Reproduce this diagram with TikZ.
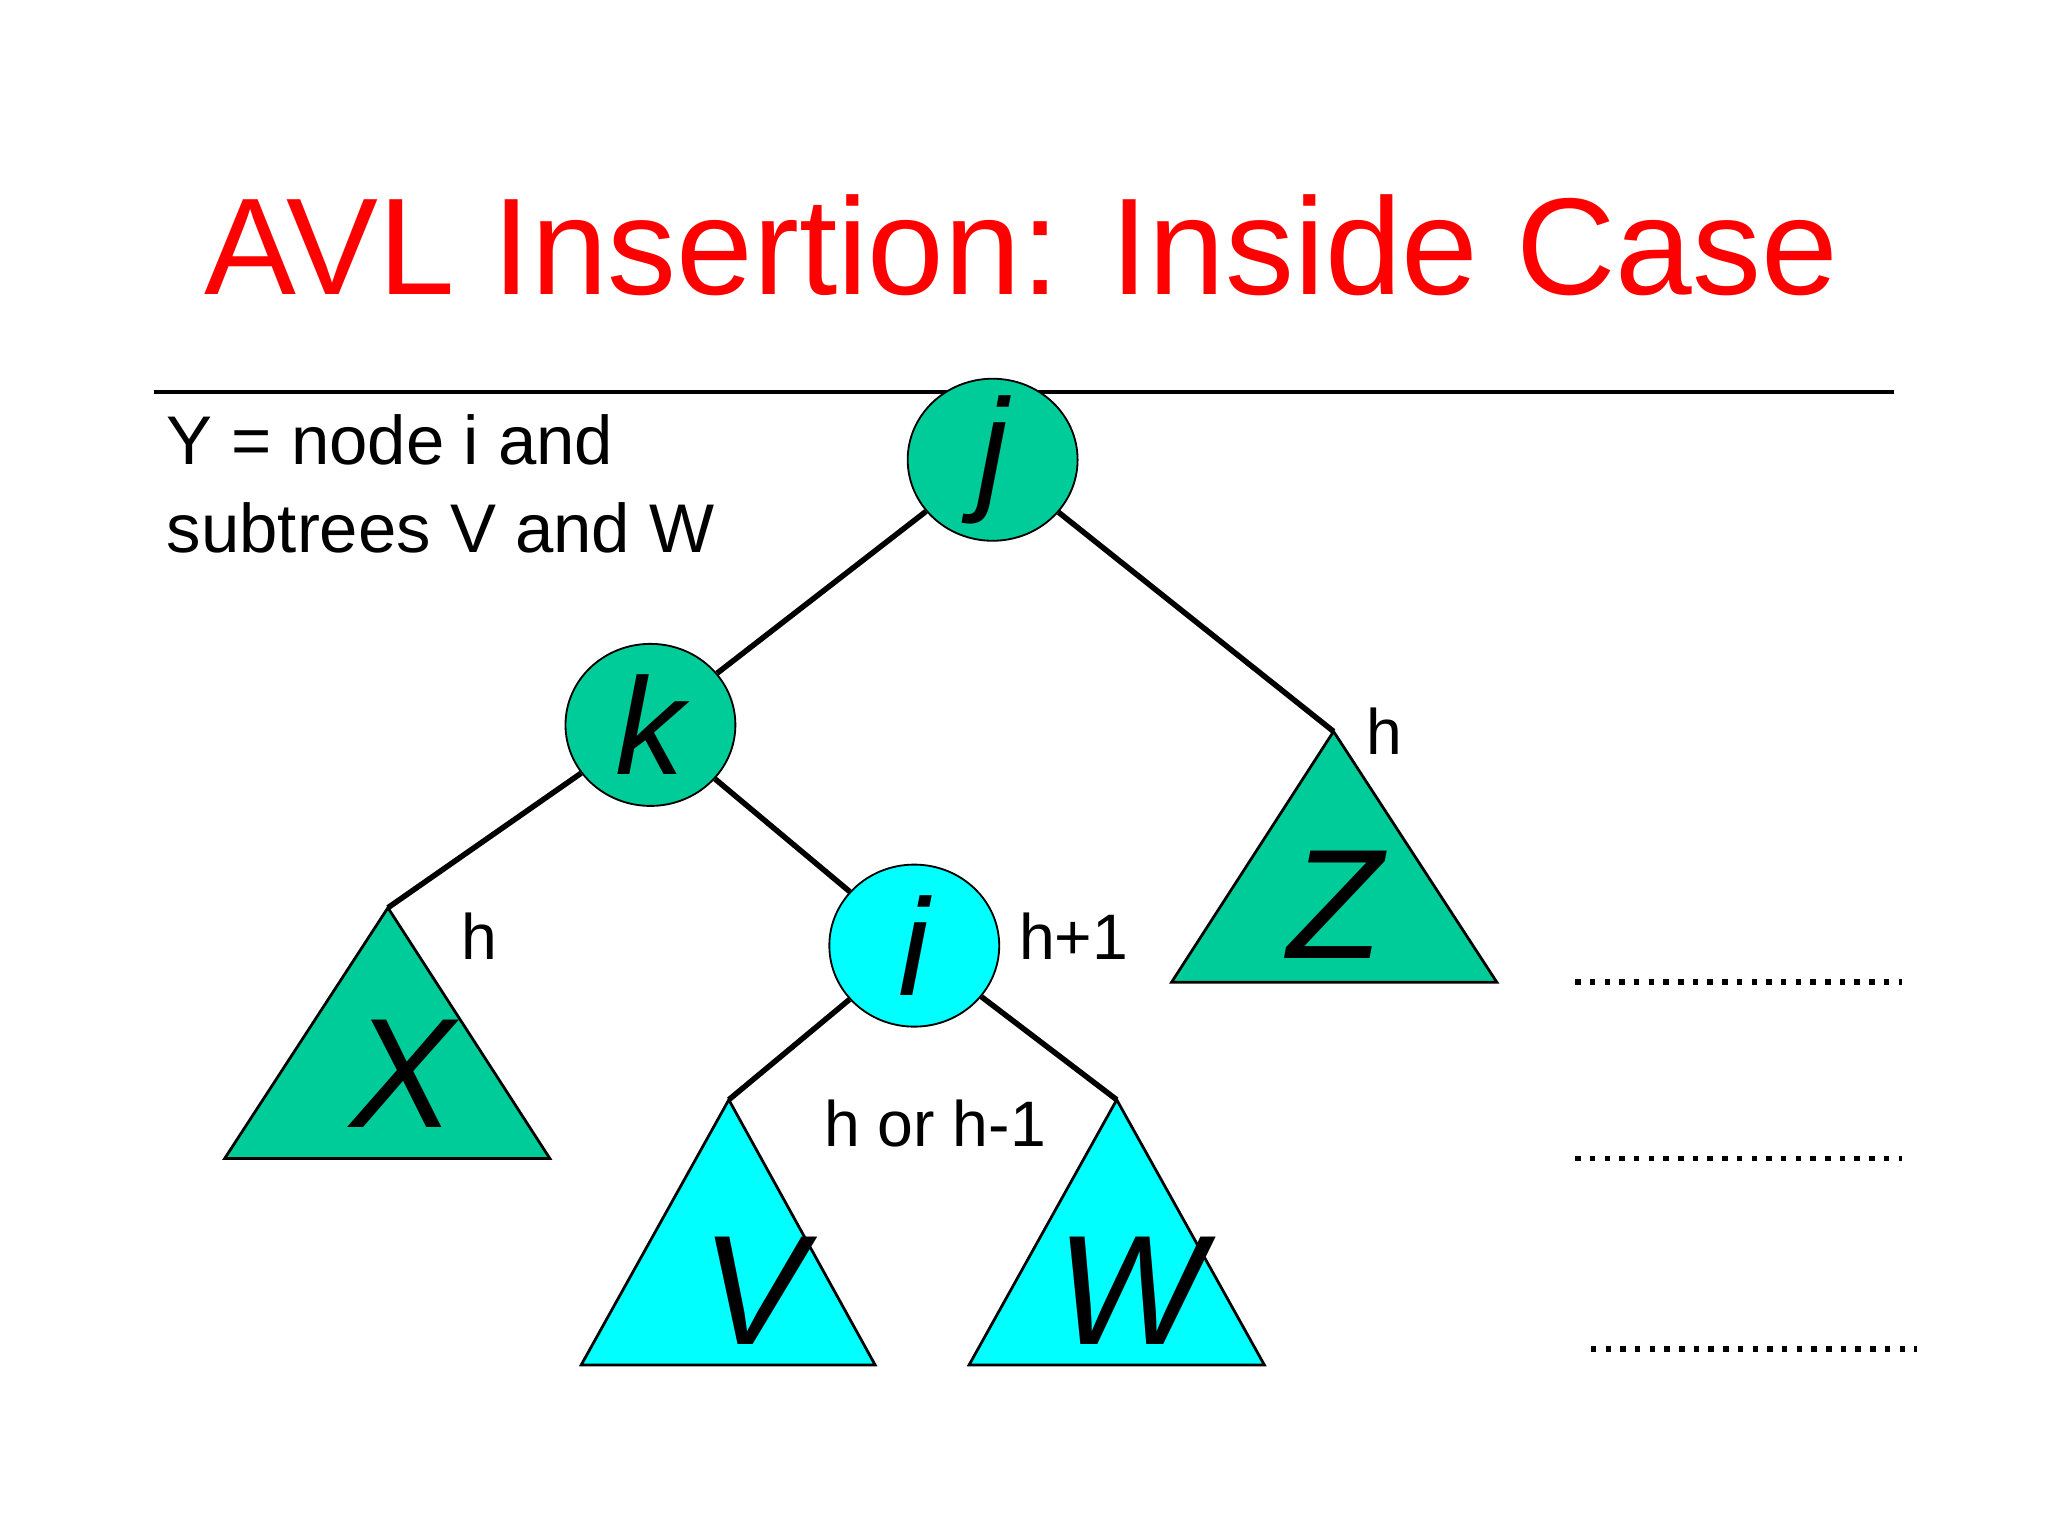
\documentclass[tikz,border=0pt]{standalone}
\usepackage{fontspec}
\setmainfont{Liberation Sans}
\usetikzlibrary{shapes.geometric}
\definecolor{tgreen}{RGB}{0,204,153}
\definecolor{tcyan}{RGB}{0,255,255}
\begin{document}
\begin{tikzpicture}[x=0.01cm,y=-0.01cm,
  circ/.style={draw,ellipse,minimum width=1.3cm,minimum height=1.24cm,inner sep=0pt},
  tri/.style={draw,line width=0.6pt},
  edge/.style={line width=1.2pt},
  big/.style={font=\fontsize{34}{36}\selectfont\itshape},
  mid/.style={font=\fontsize{30}{32}\selectfont\itshape},
  lab/.style={font=\fontsize{14}{16}\selectfont},
  dots/.style={line width=1.2pt,dotted}]
\useasboundingbox (0,0) rectangle (1568,1176);
\node[text=red,font=\fontsize{30}{32}\selectfont] (title) at (782,188) {AVL Insertion: Inside Case};
\coordinate (l1) at (118,300); \coordinate (l2) at (1450,300);
\draw[line width=0.8pt] (l1) -- (l2);
\node[align=left,anchor=north west,font=\fontsize{15}{19}\selectfont,inner sep=0pt] (ytext) at (127,317) {Y = node i and\\subtrees V and W};
% triangles
\filldraw[tri,fill=tgreen] (1021,560) coordinate (zt) -- (1146,752) -- (897,752) -- cycle;
\filldraw[tri,fill=tgreen] (297,695) coordinate (xt) -- (421,887) -- (172,887) -- cycle;
\filldraw[tri,fill=tcyan] (558,842) coordinate (vt) -- (670,1045) -- (445,1045) -- cycle;
\filldraw[tri,fill=tcyan] (855,842) coordinate (wt) -- (968,1045) -- (742,1045) -- cycle;
\node[big] (Z) at (1022,693) {Z};
\node[big] (X) at (308,822) {X};
\node[big] (V) at (577,988) {V};
\node[big] (W) at (865,988) {W};
% circles
\node[circ,fill=tgreen] (j) at (760,352) {};
\node[mid] at (760,352) {j};
\node[circ,fill=tgreen] (k) at (498,555) {};
\node[mid] at (498,555) {k};
\node[circ,fill=tcyan] (i) at (700,724) {};
\node[mid] at (700,724) {i};
\draw[edge] (j) -- (k);
\draw[edge] (j) -- (zt);
\draw[edge] (k) -- (xt);
\draw[edge] (k) -- (i);
\draw[edge] (i) -- (vt);
\draw[edge] (i) -- (wt);
\node[lab] (h1) at (1060,560) {h};
\node[lab] (h2) at (367,717) {h};
\node[lab] (h3) at (822,717) {h+1};
\node[lab] (h4) at (716,860) {h or h-1};
\draw[dots] (1206,752) coordinate (d1) -- (1456,752) coordinate (d2);
\draw[dots] (1206,887) coordinate (d3) -- (1456,887) coordinate (d4);
\draw[dots] (1218,1033) coordinate (d5) -- (1468,1033) coordinate (d6);
\end{tikzpicture}
\end{document}
